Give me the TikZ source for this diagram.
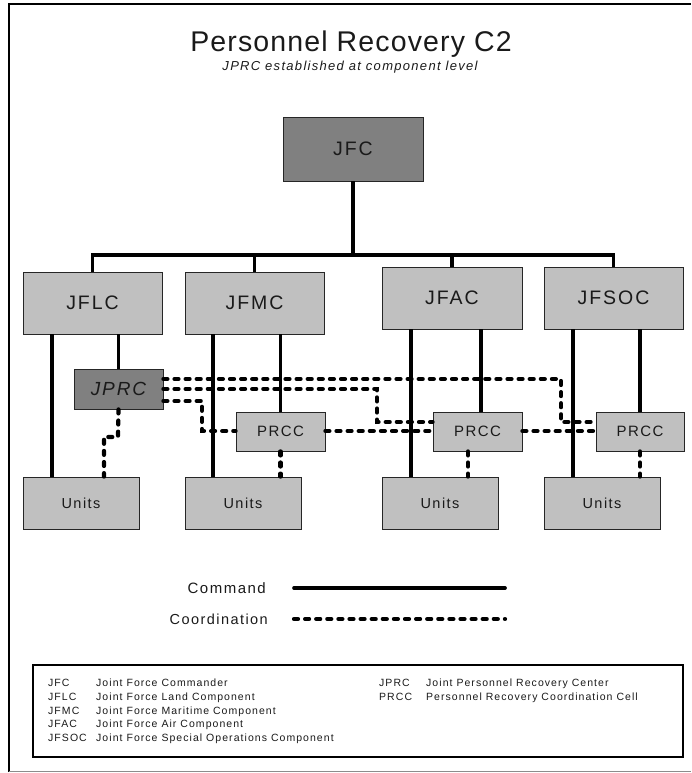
\documentclass[tikz,border=0pt]{standalone}
\usepackage{fontspec}
\setmainfont{Liberation Sans}
\newfontfamily\labfont{Liberation Sans}[LetterSpace=10]
\newfontfamily\ttlfont{Liberation Sans}[LetterSpace=4]
\definecolor{boxlight}{HTML}{C0C0C0}
\definecolor{boxdark}{HTML}{808080}
\definecolor{ink}{HTML}{1A1A1A}

\begin{document}
\begin{tikzpicture}[x=1pt,y=-1pt,
  box/.style={draw=black!85, line width=0.8pt, fill=boxlight, inner sep=0pt, text=ink},
  darkbox/.style={box, fill=boxdark},
  big/.style={minimum width=139pt, minimum height=62pt, font=\labfont\fontsize{19.5}{22}\selectfont},
  cell/.style={minimum width=89pt, minimum height=39pt, font=\labfont\fontsize{15}{18}\selectfont},
  unitbox/.style={minimum width=116pt, minimum height=52pt, font=\labfont\fontsize{14.5}{17}\selectfont},
  cmd/.style={line width=3.7pt, draw=black},
  coord/.style={line width=4.2pt, line cap=round, dash pattern=on 4pt off 7.1pt, draw=black},
  legendtext/.style={font=\labfont\fontsize{15}{18}\selectfont, inner sep=0pt, anchor=east, text=ink},
  gloss/.style={font=\labfont\fontsize{10.5}{12}\selectfont, inner sep=0pt, anchor=base west, text=ink}
]
\useasboundingbox (0,0) rectangle (691,773);

% page frame
\draw[line width=2.5pt] (9,772) -- (9,4) -- (691,4);
\draw[black!45, line width=1.5pt] (9,771.5) -- (691,771.5);

% headings
\node[font=\ttlfont\fontsize{28.5}{32}\selectfont, anchor=base, inner sep=0pt, text=ink] (title) at (351,52) {Personnel Recovery C2};
\node[font=\labfont\itshape\fontsize{13}{15}\selectfont, anchor=base, inner sep=0pt, text=ink] (subtitle) at (350,71) {JPRC established at component level};

% command structure
\node[darkbox, minimum width=140pt, minimum height=64pt, font=\labfont\fontsize{19.5}{22}\selectfont] (jfc) at (353,149) {JFC};
\node[box, big] (jflc)  at (92.5,303) {JFLC};
\node[box, big] (jfmc)  at (254.5,303) {JFMC};
\node[box, big, minimum width=140pt] (jfac) at (452,298) {JFAC};
\node[box, big] (jfsoc) at (613.5,298) {JFSOC};

\node[darkbox, minimum width=89pt, minimum height=40pt, font=\labfont\itshape\fontsize{19}{22}\selectfont] (jprc) at (118.5,389) {JPRC};
\node[box, cell] (prcc1) at (280.5,431.5) {PRCC};
\node[box, cell] (prcc2) at (477.5,431.5) {PRCC};
\node[box, cell, minimum width=88pt] (prcc3) at (640,431.5) {PRCC};

\node[box, unitbox] (units1) at (81,503) {Units};
\node[box, unitbox] (units2) at (243,503) {Units};
\node[box, unitbox] (units3) at (440,503) {Units};
\node[box, unitbox] (units4) at (602,503) {Units};

\coordinate (bus) at (353,255);

% command lines
\draw[cmd] (jfc.south) -- (bus);
\draw[cmd] (jflc.north) -- (jflc.north |- bus) -- (jfsoc.north |- bus) -- (jfsoc.north);
\draw[cmd] (jfmc.north) -- (jfmc.north |- bus);
\draw[cmd] (jfac.north) -- (jfac.north |- bus);

\draw[cmd] (jflc.south -| 52,0) -- (units1.north -| 52,0);
\draw[cmd] (jprc.north |- jflc.south) -- (jprc.north);
\draw[cmd] (jfmc.south -| 213,0) -- (units2.north -| 213,0);
\draw[cmd] (prcc1.north |- jfmc.south) -- (prcc1.north);
\draw[cmd] (jfac.south -| 411,0) -- (units3.north -| 411,0);
\draw[cmd] (jfac.south -| 481,0) -- (prcc2.north -| 481,0);
\draw[cmd] (jfsoc.south -| 573,0) -- (units4.north -| 573,0);
\draw[cmd] (prcc3.north |- jfsoc.south) -- (prcc3.north);

% coordination lines
\draw[coord] (jprc.south) -- (118,437) -- (104,437) -- (units1.north -| 104,0);
\draw[coord] (prcc1.south) -- (units2.north -| prcc1.south);
\draw[coord] (prcc2.south -| 468,0) -- (units3.north -| 468,0);
\draw[coord] (prcc3.south) -- (units4.north -| prcc3.south);

\draw[coord] (jprc.east |- 0,379) -- (561,379) -- (561,422) -- (prcc3.west |- 0,422);
\draw[coord] (jprc.east |- 0,389) -- (377,389) -- (377,422) -- (prcc2.west |- 0,422);
\draw[coord] (jprc.east |- 0,401) -- (202,401) -- (202,431) -- (prcc1.west |- 0,431);
\draw[coord] (prcc1.east |- 0,431) -- (prcc2.west |- 0,431);
\draw[coord] (prcc2.east |- 0,431) -- (prcc3.west |- 0,431);

% legend
\node[legendtext] (lcmd) at (266,588) {Command};
\node[legendtext, font=\labfont\fontsize{14.5}{17}\selectfont] (lcoord) at (268,619) {Coordination};
\coordinate (cmdA) at (294,588);
\coordinate (cmdB) at (505,588);
\coordinate (coordA) at (294,619);
\coordinate (coordB) at (505,619);
\draw[cmd, line cap=round] (cmdA) -- (cmdB);
\draw[coord] (coordA) -- (coordB);

% glossary
\node[draw=black, line width=2.5pt, minimum width=650pt, minimum height=92pt, inner sep=0pt] (glossary) at (358,711) {};
\foreach \n/\abbr/\full [count=\i] in {
  0/JFC/Joint Force Commander,
  1/JFLC/Joint Force Land Component,
  2/JFMC/Joint Force Maritime Component,
  3/JFAC/Joint Force Air Component,
  4/JFSOC/Joint Force Special Operations Component}{
  \node[gloss] (ga\i) at (48,686.5+13.75*\n) {\abbr};
  \node[gloss] (gd\i) at (96,686.5+13.75*\n) {\full};
}
\node[gloss] (gaj) at (379,686) {JPRC};
\node[gloss] (gdj) at (426,686) {Joint Personnel Recovery Center};
\node[gloss] (gap) at (379,700) {PRCC};
\node[gloss] (gdp) at (426,700) {Personnel Recovery Coordination Cell};
\end{tikzpicture}
\end{document}
